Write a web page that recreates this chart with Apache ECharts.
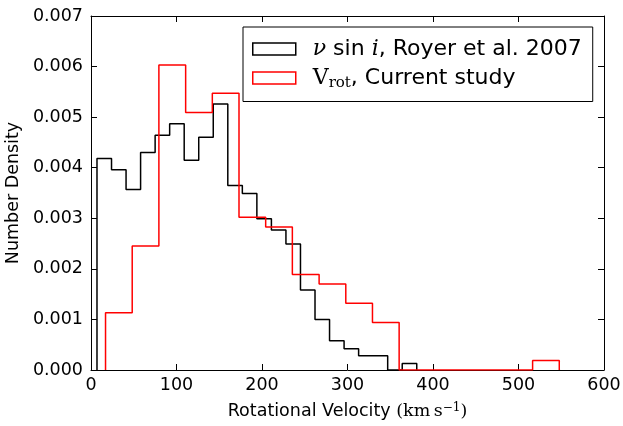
<!DOCTYPE html>
<html><head><meta charset="utf-8">
<script src="https://cdn.jsdelivr.net/npm/echarts@6/dist/echarts.min.js"></script>
<style>html,body{margin:0;padding:0;background:#fff}#c{width:623px;height:426px}</style>
</head><body><div id="c"></div>
<script>
// Bin edges (km/s) and number densities
const royerEdges = [7, 24, 41, 58, 75, 92, 109, 126, 143, 160, 177, 194, 211, 228, 245, 262, 279, 296, 313, 330, 347, 364, 381];
const royerDensity = [0.00418, 0.00396, 0.00357, 0.00430, 0.00464, 0.00487, 0.00415, 0.00460, 0.00526, 0.00365, 0.00349, 0.00299, 0.00277, 0.00249, 0.00158, 0.00100, 0.00058, 0.00042, 0.00028, 0.00028, 0, 0.00013];
const currentEdges = [17, 48.2, 79.4, 110.7, 141.9, 173.1, 204.3, 235.5, 266.8, 298.0, 329.2, 360.4, 391.6, 422.9, 454.1, 485.3, 516.5, 547.7];
const currentDensity = [0.00113, 0.00245, 0.00603, 0.00509, 0.00547, 0.00302, 0.00283, 0.00189, 0.00170, 0.00132, 0.00094, 0, 0, 0, 0, 0, 0.00019];
const xTickLabels = ['0', '100', '200', '300', '400', '500', '600'];
const yTickLabels = ['0.000', '0.001', '0.002', '0.003', '0.004', '0.005', '0.006', '0.007'];
const seriesNames = ['Royer', 'Current'];

function stepPath(edges, vals) {
  const pts = [[edges[0], 0]];
  vals.forEach((v, i) => { pts.push([edges[i], v]); pts.push([edges[i + 1], v]); });
  pts.push([edges[edges.length - 1], 0]);
  return pts;
}

const chart = echarts.init(document.getElementById('c'), null, {renderer: 'canvas'});
const FONT = 'DejaVu Sans';
const tickFs = 17.5;
const axisCommon = {
  type: 'value', splitLine: {show: false},
  axisLine: {show: true, onZero: false, lineStyle: {color: '#000', width: 1}},
  axisTick: {show: true, inside: true, length: 6, lineStyle: {color: '#000', width: 1}}
};
const option = {
  animation: false,
  backgroundColor: '#fff',
  grid: {left: 91, right: 19, top: 16, bottom: 56, containLabel: false, outerBoundsMode: 'none'},
  xAxis: [
    Object.assign({}, axisCommon, {
      min: 0, max: 600, interval: 100, position: 'bottom',
      axisLabel: {color: '#000', fontFamily: FONT, fontSize: tickFs, margin: 6,
        formatter: v => xTickLabels[Math.round(v / 100)]},
      name: '{t|Rotational Velocity }{m|(km\u2009s}{sup|\u22121}{m|)}',
      nameLocation: 'middle', nameGap: 32,
      nameTextStyle: {color: '#000', fontFamily: FONT, fontSize: tickFs,
        rich: {
          t: {fontFamily: FONT, fontSize: tickFs, color: '#000'},
          m: {fontFamily: 'DejaVu Serif', fontSize: tickFs, color: '#000'},
          sup: {fontFamily: 'DejaVu Serif', fontSize: 12, color: '#000', verticalAlign: 'top', lineHeight: 12}
        }}
    }),
    Object.assign({}, axisCommon, {
      min: 0, max: 600, interval: 100, position: 'top',
      axisLabel: {show: false}
    })
  ],
  yAxis: [
    Object.assign({}, axisCommon, {
      min: 0, max: 0.007, interval: 0.001, position: 'left',
      axisLabel: {color: '#000', fontFamily: FONT, fontSize: tickFs, margin: 8,
        formatter: v => yTickLabels[Math.round(v / 0.001)]},
      name: 'Number Density', nameLocation: 'middle', nameGap: 65,
      nameTextStyle: {color: '#000', fontFamily: FONT, fontSize: tickFs}
    }),
    Object.assign({}, axisCommon, {
      min: 0, max: 0.007, interval: 0.001, position: 'right',
      axisLabel: {show: false}
    })
  ],
  legend: {
    orient: 'vertical', left: 243, top: 27,
    padding: [11, 11, 11, 9], itemGap: 7,
    itemWidth: 43, itemHeight: 12,
    borderColor: '#000', borderWidth: 1, backgroundColor: '#fff',
    data: [
      {name: seriesNames[0], icon: 'rect', itemStyle: {color: 'rgba(0,0,0,0)', borderColor: '#000', borderWidth: 1.5}},
      {name: seriesNames[1], icon: 'rect', itemStyle: {color: 'rgba(0,0,0,0)', borderColor: '#ff0000', borderWidth: 1.5}}
    ],
    formatter: n => n === seriesNames[0]
      ? '{m|\u03bd}{t| sin }{m|i}{t|, Royer et al. 2007}'
      : '{r|V}{s|rot}{t|, Current study}',
    textStyle: {
      color: '#000', fontFamily: FONT, fontSize: 22, padding: [0, 0, 0, 12],
      rich: {
        t: {fontFamily: FONT, fontSize: 22, color: '#000', lineHeight: 25},
        m: {fontFamily: 'DejaVu Serif', fontStyle: 'italic', fontSize: 22, color: '#000', lineHeight: 25},
        r: {fontFamily: 'DejaVu Serif', fontSize: 22, color: '#000', lineHeight: 25},
        s: {fontFamily: 'DejaVu Serif', fontSize: 15, color: '#000', verticalAlign: 'bottom', lineHeight: 15}
      }
    }
  },
  series: [
    {name: seriesNames[0], type: 'line', xAxisIndex: 0, yAxisIndex: 0, data: stepPath(royerEdges, royerDensity),
      showSymbol: false, symbol: 'none', color: '#000', lineStyle: {color: '#000', width: 1.5}, z: 2},
    {name: seriesNames[1], type: 'line', xAxisIndex: 0, yAxisIndex: 0, data: stepPath(currentEdges, currentDensity),
      showSymbol: false, symbol: 'none', color: '#ff0000', lineStyle: {color: '#ff0000', width: 1.5}, z: 3}
  ]
};
chart.setOption(option);
</script></body></html>
